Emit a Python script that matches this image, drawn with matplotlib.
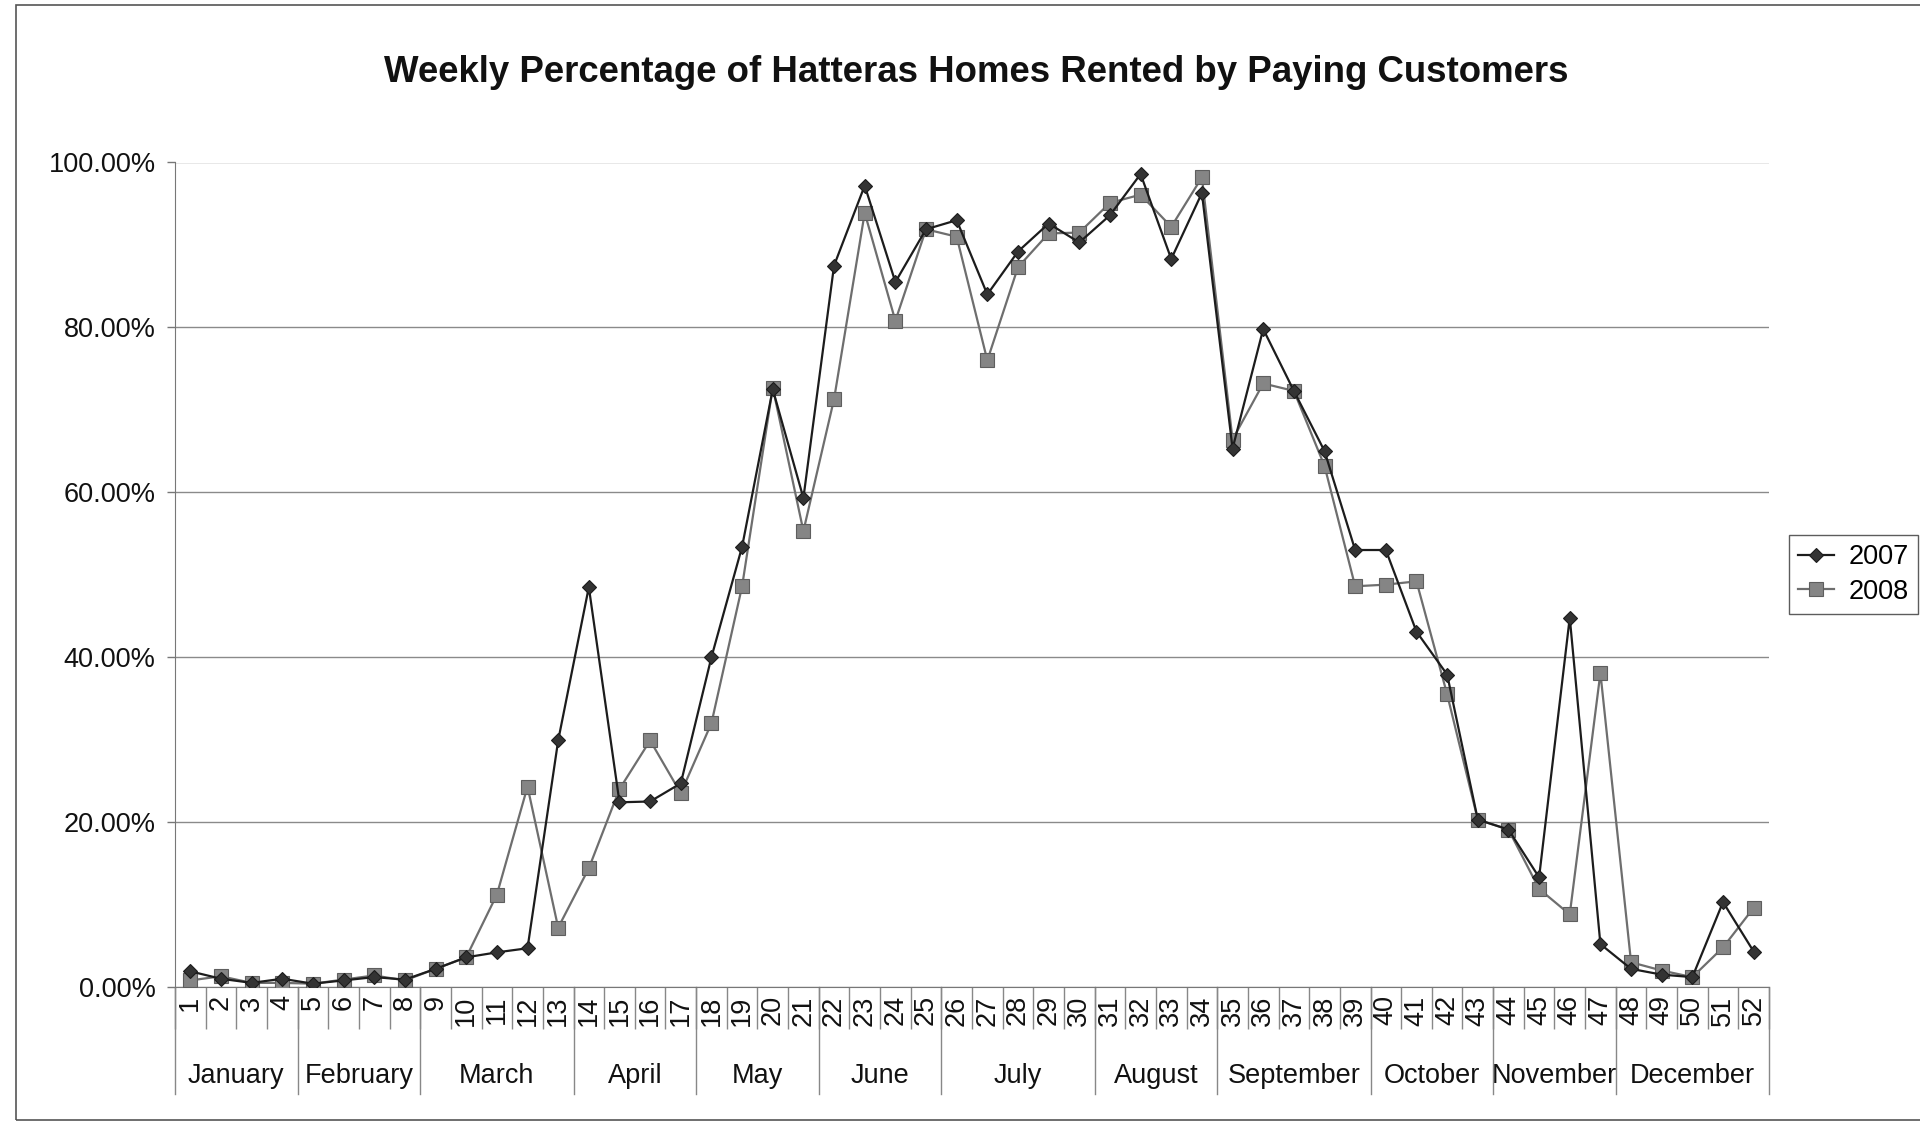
import matplotlib
matplotlib.use("Agg")
import matplotlib.pyplot as plt
from matplotlib.patches import Rectangle
from matplotlib.lines import Line2D

plt.rcParams['font.family'] = ['Liberation Sans', 'DejaVu Sans']

weeks = list(range(1, 53))
week_labels = [str(w) for w in weeks]

y2007 = [1.9, 1.0, 0.5, 1.0, 0.4, 0.8, 1.2, 0.9, 2.2, 3.6, 4.2, 4.7, 29.9, 48.5,
         22.4, 22.5, 24.7, 40.0, 53.4, 72.5, 59.3, 87.5, 97.2, 85.5, 91.9, 93.0,
         84.0, 89.2, 92.6, 90.3, 93.6, 98.6, 88.3, 96.3, 65.3, 79.8, 72.3, 65.0,
         53.0, 53.0, 43.1, 37.9, 20.3, 19.1, 13.3, 44.8, 5.2, 2.2, 1.5, 1.2,
         10.3, 4.3]
y2008 = [0.8, 1.3, 0.5, 0.5, 0.4, 0.9, 1.4, 0.8, 2.2, 3.6, 11.2, 24.3, 7.2, 14.4,
         24.0, 29.9, 23.5, 32.0, 48.6, 72.7, 55.3, 71.3, 93.9, 80.8, 91.9, 91.0,
         76.0, 87.3, 91.4, 91.5, 95.1, 96.1, 92.2, 98.2, 66.4, 73.2, 72.3, 63.2,
         48.6, 48.8, 49.2, 35.5, 20.3, 19.1, 11.9, 8.8, 38.1, 3.0, 2.0, 1.2,
         4.8, 9.6]

months = ['January', 'February', 'March', 'April', 'May', 'June', 'July',
          'August', 'September', 'October', 'November', 'December']
month_last_week = [4, 8, 13, 17, 21, 25, 30, 34, 39, 43, 47, 52]

yticks = [0, 20, 40, 60, 80, 100]
ytick_labels = ['0.00%', '20.00%', '40.00%', '60.00%', '80.00%', '100.00%']

title = 'Weekly Percentage of Hatteras Homes Rented by Paying Customers'

W, H = 1920, 1123
fig = plt.figure(figsize=(W / 100, H / 100), dpi=100)

# chart area border
fig.add_artist(Rectangle((16 / W, 1 - 1120 / H), (1930 - 16) / W, (1120 - 5) / H,
                         transform=fig.transFigure, fill=False,
                         edgecolor='#555555', linewidth=1.2))

ax_l, ax_r = 175 / W, 1769 / W
ax_b, ax_t = 1 - 987 / H, 1 - 162.5 / H
ax = fig.add_axes([ax_l, ax_b, ax_r - ax_l, ax_t - ax_b])

ax.plot(weeks, y2007, color='#1c1c1c', lw=1.6, marker='D', ms=7,
        mfc='#333333', mec='#1c1c1c', mew=0.8, label='2007', zorder=4)
ax.plot(weeks, y2008, color='#6e6e6e', lw=1.6, marker='s', ms=10,
        mfc='#858585', mec='#5e5e5e', mew=0.8, label='2008', zorder=3)

ax.set_xlim(0.5, 52.5)
ax.set_ylim(0, 100)

ax.set_yticks(yticks)
ax.set_yticklabels(ytick_labels, fontsize=19.5, color='#111111')
ax.tick_params(axis='y', direction='out', length=6, width=1, color='#777777', pad=8)
ax.grid(axis='y', color='#8a8a8a', lw=1.0)
ax.set_axisbelow(True)

for s in ['top', 'right']:
    ax.spines[s].set_visible(False)
ax.spines['left'].set_color('#777777')
ax.spines['bottom'].set_color('#777777')

# week labels and separators
ax.set_xticks(weeks)
ax.set_xticklabels(week_labels, rotation=90, fontsize=19.5, va='top', ha='center',
                   color='#111111')
ax.tick_params(axis='x', length=0, pad=6)
ax.set_xticks([w + 0.5 for w in [0] + weeks], minor=True)
ax.tick_params(axis='x', which='minor', direction='out', length=42 / 1.389,
               width=1, color='#888888')

axh = 987 - 162.5
trans = ax.get_xaxis_transform()
month_bottom = -(1094 - 987) / axh
for last in [0] + month_last_week:
    ax.add_line(Line2D([last + 0.5, last + 0.5], [0, month_bottom], transform=trans,
                       color='#888888', lw=1, clip_on=False))

start = 1
for m, last in zip(months, month_last_week):
    cx = (start + last) / 2
    ax.text(cx, -(1076 - 987) / axh, m, transform=trans, ha='center', va='center',
            fontsize=19.5, color='#111111')
    start = last + 1

fig.text(976 / W, 1 - 72 / H, title, ha='center', va='center', fontsize=26.4,
         fontweight='bold', color='#111111')

leg = fig.legend(loc='upper left', bbox_to_anchor=(1789 / W, 1 - 535 / H),
                 borderaxespad=0, fontsize=19.5, frameon=True, fancybox=False,
                 edgecolor='#333333', handlelength=1.3, handletextpad=0.55,
                 borderpad=0.35, labelspacing=0.3)
leg.get_frame().set_linewidth(1.0)

fig.savefig('out.png', dpi=100, facecolor='white')
